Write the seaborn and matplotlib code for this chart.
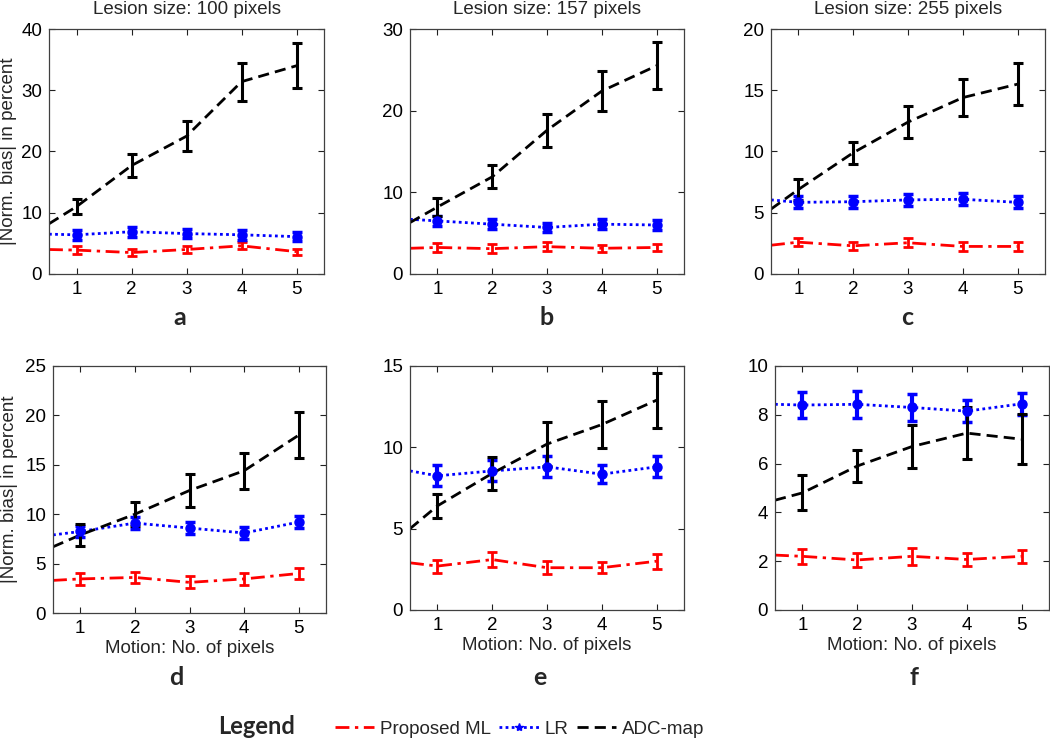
import numpy as np
import pandas as pd
import matplotlib
matplotlib.use('Agg')
import matplotlib.pyplot as plt
from matplotlib.lines import Line2D
import seaborn as sns

# x positions (motion in pixels); line is drawn from the left edge (0.5)
motion = [1, 2, 3, 4, 5]
panel_letters = ['a', 'b', 'c', 'd', 'e', 'f']
titles = ['Lesion size: 100 pixels', 'Lesion size: 157 pixels', 'Lesion size: 255 pixels', '', '', '']
ylims = [40, 30, 20, 25, 15, 10]
ysteps = [10, 10, 5, 5, 5, 2]

# ADC-map (black dashed)
adc_start = [8.2, 6.3, 5.3, 6.7, 5.0, 4.5]
adc_mean = [[11.0, 17.7, 22.5, 31.4, 34.0],
            [8.2, 11.9, 17.6, 22.4, 25.5],
            [6.9, 9.9, 12.4, 14.4, 15.5],
            [7.9, 10.0, 12.4, 14.4, 18.0],
            [6.4, 8.4, 10.2, 11.4, 12.9],
            [4.8, 5.9, 6.7, 7.25, 7.0]]
adc_err = [[1.2, 1.9, 2.4, 3.1, 3.7],
           [1.05, 1.4, 2.05, 2.5, 2.9],
           [0.85, 0.9, 1.3, 1.5, 1.7],
           [1.1, 1.2, 1.7, 1.8, 2.3],
           [0.75, 1.0, 1.35, 1.45, 1.7],
           [0.72, 0.67, 0.9, 1.05, 1.02]]

# LR (blue dotted)
lr_start = [6.5, 6.7, 6.05, 7.9, 8.55, 8.43]
lr_mean = [[6.4, 6.9, 6.6, 6.4, 6.1],
           [6.5, 6.1, 5.7, 6.1, 6.0],
           [5.85, 5.9, 6.05, 6.1, 5.85],
           [8.25, 9.1, 8.6, 8.1, 9.2],
           [8.25, 8.55, 8.8, 8.35, 8.8],
           [8.4, 8.43, 8.3, 8.15, 8.45]]
lr_err = [[0.8, 0.8, 0.8, 0.8, 0.7],
          [0.6, 0.6, 0.6, 0.6, 0.6],
          [0.5, 0.5, 0.5, 0.5, 0.5],
          [0.6, 0.6, 0.6, 0.6, 0.6],
          [0.65, 0.65, 0.65, 0.55, 0.65],
          [0.52, 0.55, 0.55, 0.45, 0.45]]

# Proposed ML (red dash-dot)
ml_start = [4.0, 3.15, 2.35, 3.3, 2.9, 2.25]
ml_mean = [[3.9, 3.5, 4.0, 4.6, 3.65],
           [3.25, 3.1, 3.35, 3.15, 3.25],
           [2.6, 2.3, 2.55, 2.25, 2.25],
           [3.45, 3.6, 3.1, 3.45, 4.0],
           [2.7, 3.1, 2.6, 2.6, 3.0],
           [2.2, 2.05, 2.2, 2.07, 2.2]]
ml_err = [[0.7, 0.6, 0.6, 0.6, 0.5],
          [0.55, 0.55, 0.55, 0.45, 0.45],
          [0.35, 0.35, 0.35, 0.35, 0.35],
          [0.6, 0.6, 0.6, 0.6, 0.6],
          [0.4, 0.45, 0.4, 0.35, 0.45],
          [0.3, 0.28, 0.35, 0.27, 0.27]]

methods = ['Proposed ML', 'LR', 'ADC-map']
palette = {'Proposed ML': 'red', 'LR': 'blue', 'ADC-map': 'black'}
dashes = {'Proposed ML': (5, 2, 1.2, 2), 'LR': (1, 1.2), 'ADC-map': (4, 2.2)}

rows = []
for p in range(6):
    for name, st, mn in [('Proposed ML', ml_start, ml_mean), ('LR', lr_start, lr_mean),
                         ('ADC-map', adc_start, adc_mean)]:
        xs = [0.5] + motion
        ys = [st[p]] + mn[p]
        for x, y in zip(xs, ys):
            rows.append({'panel': p, 'method': name, 'motion': x, 'bias': y})
df = pd.DataFrame(rows)

sns.set_style('ticks')
plt.rcParams['font.family'] = ['Liberation Sans', 'DejaVu Sans']

fig = plt.figure(figsize=(10.5, 7.41), dpi=100)
W, H = 1050, 741
boxes = [(49, 324, 29, 274), (410, 684, 29, 274), (771, 1045, 29, 274),
         (53, 326, 366, 613), (410, 684, 366, 610), (775, 1049, 366, 610)]
letter_pos = [(180, 325), (547, 325), (907, 325), (176, 685), (540, 685), (914, 685)]

for p in range(6):
    l, r, t, b = boxes[p]
    ax = fig.add_axes([l / W, 1 - b / H, (r - l) / W, (b - t) / H])
    sub = df[df['panel'] == p]
    sns.lineplot(data=sub, x='motion', y='bias', hue='method', style='method',
                 palette=palette, dashes=dashes, hue_order=methods, style_order=methods,
                 linewidth=2, ax=ax, legend=False, sort=False)
    ax.errorbar(motion, ml_mean[p], yerr=ml_err[p], fmt='none', ecolor='red',
                elinewidth=2, capsize=3.5, capthick=2)
    ax.errorbar(motion, lr_mean[p], yerr=lr_err[p], fmt='o', color='blue', ms=6.5,
                elinewidth=3, capsize=3.5, capthick=2.5)
    ax.errorbar(motion, adc_mean[p], yerr=adc_err[p], fmt='none', ecolor='black',
                elinewidth=2.2, capsize=3.5, capthick=2.2)
    ax.set_xlim(0.5, 5.5)
    ax.set_ylim(0, ylims[p])
    ax.set_xticks(motion)
    ax.set_yticks(np.arange(0, ylims[p] + 0.1, ysteps[p]))
    ax.tick_params(direction='in', top=True, right=True, length=4, width=0.8,
                   labelsize=13.5, colors='#202020', labelcolor='black', pad=5)
    for s in ax.spines.values():
        s.set_color('#404040')
        s.set_linewidth(0.9)
    ax.set_xlabel('')
    ax.set_ylabel('')
    if titles[p]:
        ax.set_title(titles[p], fontsize=13.5, pad=11)
    if p in (0, 3):
        ax.set_ylabel('|Norm. bias| in percent', fontsize=13.5)
        ax.yaxis.set_label_coords(-0.115 if p == 0 else -0.13, 0.5)
    if p >= 3:
        ax.set_xlabel('Motion: No. of pixels', fontsize=13.5, labelpad=2)
    fig.text(letter_pos[p][0] / W, 1 - letter_pos[p][1] / H, panel_letters[p],
             ha='center', va='baseline', fontsize=18, fontweight='bold',
             family=['Lato', 'DejaVu Sans'])

# legend row at the bottom
fig.text(218 / W, 1 - 727 / H, 'Legend', ha='left', va='center', fontsize=17,
         fontweight='bold', family=['Lato', 'DejaVu Sans'])
handles = [Line2D([], [], color='red', lw=2, dashes=dashes['Proposed ML']),
           Line2D([], [], color='blue', lw=2, dashes=dashes['LR'], marker='*', ms=6),
           Line2D([], [], color='black', lw=2, dashes=dashes['ADC-map'])]
fig.legend(handles, methods, loc='center left', bbox_to_anchor=(335 / W, 1 - 729 / H),
           ncol=3, frameon=False, fontsize=13.5, handlelength=2.1, handletextpad=0.3,
           columnspacing=0.45, borderpad=0, borderaxespad=0, numpoints=1)

fig.savefig('out.png', dpi=100)
